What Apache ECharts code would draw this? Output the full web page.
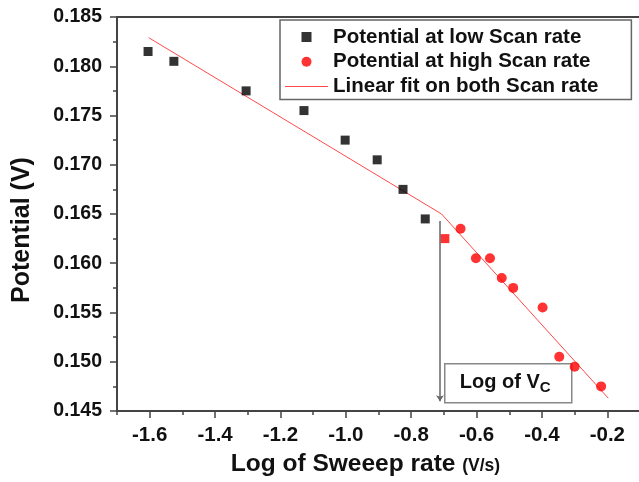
<!DOCTYPE html>
<html lang="en">
<head>
    <meta charset="UTF-8">
    <title>Potential vs Log of Sweep rate</title>
    <style>
        html, body { margin: 0; padding: 0; overflow: hidden; background: #fff; }
    </style>
</head>
<body>
<div id="main" style="width:646px;height:482px;"></div>

<script src="https://cdn.jsdelivr.net/npm/echarts@6/dist/echarts.min.js"></script>
<script>
    // data
    var lowX = [-1.605, -1.526, -1.305, -1.128, -1.002, -0.904, -0.825, -0.757];
    var lowY = [0.1815, 0.1805, 0.1775, 0.1755, 0.1725, 0.1705, 0.1675, 0.1645];
    var highX = [-0.697, -0.649, -0.602, -0.559, -0.523, -0.488, -0.398, -0.347, -0.300, -0.219];
    var highY = [0.1625, 0.1635, 0.1605, 0.1605, 0.1585, 0.1575, 0.1555, 0.1505, 0.1495, 0.1475];
    var highShape = ['rect', 'circle', 'circle', 'circle', 'circle', 'circle', 'circle', 'circle', 'circle', 'circle'];
    var fitX = [-1.603, -0.707, -0.197];
    var fitY = [0.1829, 0.1650, 0.1463];
    var vcArrowX = -0.712;
    var vcArrowY = [0.1643, 0.1460];
    var xTicks = [-1.6, -1.4, -1.2, -1.0, -0.8, -0.6, -0.4, -0.2];
    var xMinorTicks = [-1.7, -1.5, -1.3, -1.1, -0.9, -0.7, -0.5, -0.3, -0.1];

    var FONT = "'Liberation Sans', Arial, sans-serif";

    function pairs(xs, ys) {
        return xs.map(function (x, i) { return [x, ys[i]]; });
    }

    var highData = highX.map(function (x, i) {
        return { value: [x, highY[i]], symbol: highShape[i], symbolSize: highShape[i] === 'rect' ? 9 : 10 };
    });

    var myChart = echarts.init(document.getElementById('main'));
    myChart.setOption({
        animation: false,
        grid: {
            left: 117, top: 17, width: 523, height: 396,
            show: true, borderColor: '#444', borderWidth: 2, backgroundColor: 'transparent'
        },
        legend: {
            orient: 'vertical',
            left: 280, top: 20,
            backgroundColor: '#fff',
            borderColor: '#666', borderWidth: 1.5,
            padding: [6, 33, 2, 5],
            itemGap: 2.7,
            itemWidth: 43, itemHeight: 10,
            textStyle: { fontFamily: FONT, fontSize: 20.5, fontWeight: 'bold', color: '#111', lineHeight: 22 },
            data: [
                { name: 'Potential at low Scan rate', icon: 'path://M0,0L10,0L10,10L0,10Z' },
                { name: 'Potential at high Scan rate', icon: 'circle' },
                { name: 'Linear fit on both Scan rate', icon: 'path://M0,0L43,0L43,1L0,1Z' }
            ]
        },
        xAxis: [{
            type: 'value', min: -1.7, max: -0.1,
            name: '{a|Log of Sweeep rate }{b|(V/s)}',
            nameLocation: 'middle', nameGap: 41,
            nameTextStyle: {
                padding: [0, 26, 0, 0],
                rich: {
                    a: { fontFamily: FONT, fontSize: 24.5, fontWeight: 'bold', color: '#111' },
                    b: { fontFamily: FONT, fontSize: 17.5, fontWeight: 'bold', color: '#111', padding: [4, 0, 0, 0] }
                }
            },
            axisLine: { lineStyle: { color: '#444', width: 2 } },
            axisTick: { customValues: xTicks, length: 7, lineStyle: { color: '#444', width: 1.5 } },
            axisLabel: {
                customValues: xTicks, margin: 14,
                fontFamily: FONT, fontSize: 20.5, fontWeight: 'bold', color: '#111',
                formatter: function (v) { return v.toFixed(1); }
            },
            splitLine: { show: false }
        }, {
            type: 'value', min: -1.7, max: -0.1, position: 'bottom',
            axisLine: { show: false },
            axisTick: { customValues: xMinorTicks, length: 4, lineStyle: { color: '#444', width: 1.5 } },
            axisLabel: { show: false },
            splitLine: { show: false }
        }],
        yAxis: {
            type: 'value', min: 0.145, max: 0.185, interval: 0.005,
            name: 'Potential (V)',
            nameLocation: 'middle', nameGap: 82, nameRotate: 90,
            nameTextStyle: { fontFamily: FONT, fontSize: 25, fontWeight: 'bold', color: '#111', padding: [0, 32, 0, 0] },
            axisLine: { show: true, lineStyle: { color: '#444', width: 2 } },
            axisTick: { show: true, length: 7, lineStyle: { color: '#444', width: 1.5 } },
            minorTick: { show: true, splitNumber: 2, length: 4, lineStyle: { color: '#444', width: 1.5 } },
            axisLabel: {
                margin: 15,
                fontFamily: FONT, fontSize: 19.5, fontWeight: 'bold', color: '#111',
                formatter: function (v) { return v.toFixed(3); }
            },
            splitLine: { show: false }
        },
        series: [{
            name: 'Linear fit on both Scan rate',
            type: 'line',
            data: pairs(fitX, fitY),
            symbol: 'none',
            lineStyle: { color: '#ff4a4a', width: 1 },
            itemStyle: { color: '#ff4a4a' },
            z: 1,
            markLine: {
                silent: true,
                symbol: ['none', 'arrow'],
                symbolSize: 6,
                label: { show: false },
                lineStyle: { color: '#666', width: 1.5, type: 'solid' },
                data: [[{ coord: [vcArrowX, vcArrowY[0]] }, { coord: [vcArrowX, vcArrowY[1]] }]]
            }
        }, {
            name: 'Potential at low Scan rate',
            type: 'scatter',
            symbol: 'rect',
            symbolSize: 9,
            itemStyle: { color: '#000' },
            data: pairs(lowX, lowY),
            z: 3
        }, {
            name: 'Potential at high Scan rate',
            type: 'scatter',
            symbol: 'circle',
            symbolSize: 10,
            itemStyle: { color: '#ff0000' },
            data: highData,
            z: 3
        }],
        graphic: [{
            type: 'group', left: 444, top: 363,
            children: [{
                type: 'rect',
                shape: { x: 0, y: 0, width: 127, height: 39 },
                style: { fill: '#fff', stroke: '#888', lineWidth: 1.5 }
            }, {
                type: 'text',
                x: 15, y: 19,
                style: {
                    text: '{a|Log of V}{b|C}',
                    verticalAlign: 'middle',
                    rich: {
                        a: { fontFamily: FONT, fontSize: 20, fontWeight: 'bold', fill: '#111' },
                        b: { fontFamily: FONT, fontSize: 15, fontWeight: 'bold', fill: '#111', padding: [10, 0, 0, 0] }
                    }
                }
            }]
        }]
    });
</script>
</body>
</html>
